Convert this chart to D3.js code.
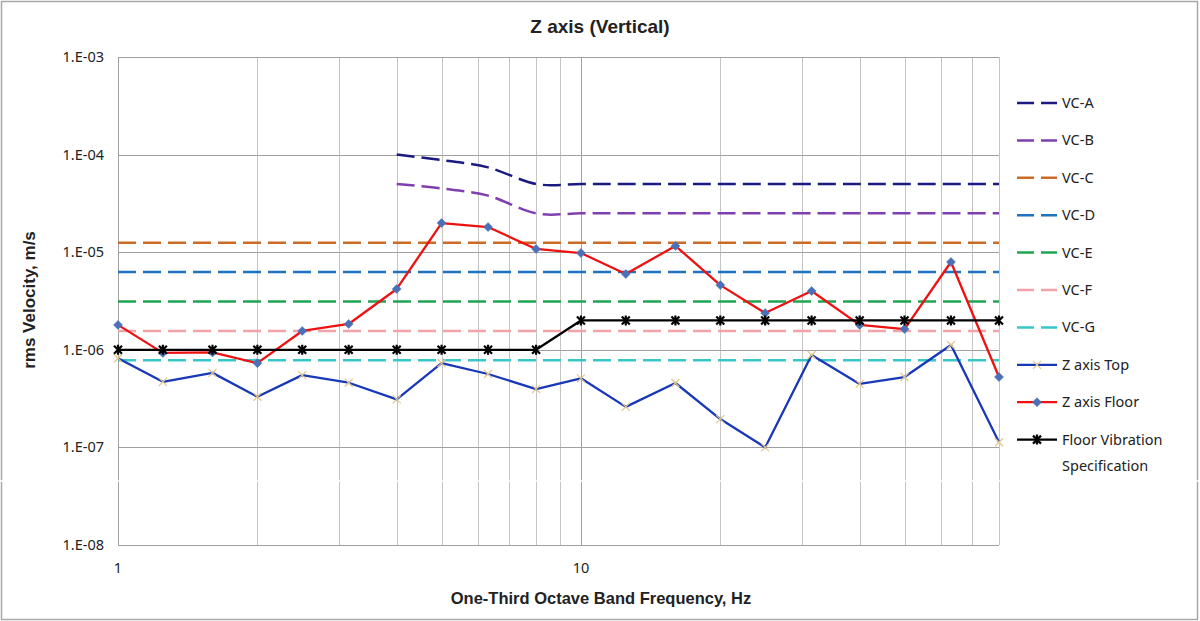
<!DOCTYPE html>
<html>
<head>
<meta charset="utf-8">
<script src="https://cdn.jsdelivr.net/npm/d3@7"></script>
<style>
  body { margin: 0; background: #fff; }
  svg { display: block; }
</style>
</head>
<body>
<svg id="chart" width="1200" height="621"></svg>
<script>
// one-third octave band centre frequencies, Hz
var freqs = [1, 1.25, 1.6, 2, 2.5, 3.15, 4, 5, 6.3, 8, 10, 12.5, 16, 20, 25, 31.5, 40, 50, 63, 80];

// measured rms velocity, m/s
var zTop = [8.2e-7, 4.7e-7, 5.8e-7, 3.3e-7, 5.5e-7, 4.6e-7, 3.1e-7, 7.3e-7, 5.65e-7, 3.96e-7,
            5.1e-7, 2.6e-7, 4.57e-7, 1.95e-7, 1.0e-7, 8.85e-7, 4.47e-7, 5.26e-7, 1.12e-6, 1.13e-7];
var zFloor = [1.8e-6, 9.3e-7, 9.4e-7, 7.3e-7, 1.56e-6, 1.84e-6, 4.2e-6, 1.99e-5, 1.81e-5, 1.08e-5,
              9.8e-6, 5.98e-6, 1.16e-5, 4.6e-6, 2.38e-6, 4.0e-6, 1.8e-6, 1.63e-6, 7.94e-6, 5.26e-7];
var floorSpec = [1e-6, 1e-6, 1e-6, 1e-6, 1e-6, 1e-6, 1e-6, 1e-6, 1e-6, 1e-6,
                 2e-6, 2e-6, 2e-6, 2e-6, 2e-6, 2e-6, 2e-6, 2e-6, 2e-6, 2e-6];

// vibration criteria curves
var vcABFreqs = [4, 5, 6.3, 8, 10, 12.5, 16, 20, 25, 31.5, 40, 50, 63, 80];
var vcA = [1e-4, 8.8e-5, 7.4e-5, 5e-5, 5e-5, 5e-5, 5e-5, 5e-5, 5e-5, 5e-5, 5e-5, 5e-5, 5e-5, 5e-5];
var vcB = [5e-5, 4.5e-5, 3.8e-5, 2.5e-5, 2.5e-5, 2.5e-5, 2.5e-5, 2.5e-5, 2.5e-5, 2.5e-5, 2.5e-5, 2.5e-5, 2.5e-5, 2.5e-5];
var vcFlatFreqs = [1, 80];
var vcC = [1.25e-5, 1.25e-5];
var vcD = [6.25e-6, 6.25e-6];
var vcE = [3.12e-6, 3.12e-6];
var vcF = [1.56e-6, 1.56e-6];
var vcG = [7.8e-7, 7.8e-7];

var yTicks = [1e-8, 1e-7, 1e-6, 1e-5, 1e-4, 1e-3];
var xTickLabels = [1, 10];
var xGrid = [2, 3, 4, 5, 6, 7, 8, 9, 10, 20, 30, 40, 50, 60, 70, 80];

var vcSeries = [
  {name: "VC-A", xs: vcABFreqs, ys: vcA, color: "#1a1a80"},
  {name: "VC-B", xs: vcABFreqs, ys: vcB, color: "#7f3fb0"},
  {name: "VC-C", xs: vcFlatFreqs, ys: vcC, color: "#cc6a28"},
  {name: "VC-D", xs: vcFlatFreqs, ys: vcD, color: "#1f72bd"},
  {name: "VC-E", xs: vcFlatFreqs, ys: vcE, color: "#1fa551"},
  {name: "VC-F", xs: vcFlatFreqs, ys: vcF, color: "#f2a3a8"},
  {name: "VC-G", xs: vcFlatFreqs, ys: vcG, color: "#38c6c8"}
];
var dataSeries = [
  {name: "Z axis Top", ys: zTop, color: "#1838b8", marker: "x", mcolor: "#e3c68a"},
  {name: "Z axis Floor", ys: zFloor, color: "#ee1111", marker: "diamond", mcolor: "#4a70b8"},
  {name: "Floor Vibration", name2: "Specification", ys: floorSpec, color: "#000", marker: "star", mcolor: "#000"}
];

var svg = d3.select("#chart");
var W = 1200, H = 621;
var mLeft = 118, mRight = 999, mTop = 57, mBottom = 545;

var x = d3.scaleLog().domain([1, 80]).range([mLeft, mRight]);
var y = d3.scaleLog().domain([1e-8, 1e-3]).range([mBottom, mTop]);

// outer frame
svg.append("rect")
  .attr("x", 1.5).attr("y", 1.5).attr("width", W - 4).attr("height", H - 3)
  .attr("fill", "#fff").attr("stroke", "#a8a8a8").attr("stroke-width", 1.5);

var tickFont = "'Noto Sans', sans-serif";

// grid
var grid = svg.append("g");
grid.selectAll(".vg").data(xGrid).enter().append("line")
  .attr("x1", function(d) { return Math.round(x(d)) + 0.5; })
  .attr("x2", function(d) { return Math.round(x(d)) + 0.5; })
  .attr("y1", mTop).attr("y2", mBottom)
  .attr("stroke", function(d) { return d === 10 ? "#a0a0a0" : "#c4c4c4"; })
  .attr("stroke-width", 1);
grid.selectAll(".hg").data(yTicks).enter().append("line")
  .attr("x1", mLeft).attr("x2", mRight)
  .attr("y1", function(d) { return Math.round(y(d)) + 0.5; })
  .attr("y2", function(d) { return Math.round(y(d)) + 0.5; })
  .attr("stroke", "#a0a0a0").attr("stroke-width", 1);
grid.append("line")
  .attr("x1", mLeft + 0.5).attr("x2", mLeft + 0.5).attr("y1", mTop).attr("y2", mBottom)
  .attr("stroke", "#a0a0a0");

// y axis labels
var fmtE = function(d) {
  var e = Math.round(Math.log10(d));
  return "1.E" + (e < 0 ? "-" : "+") + String(Math.abs(e)).padStart(2, "0");
};
svg.append("g").selectAll("text").data(yTicks).enter().append("text")
  .attr("x", 104).attr("y", function(d) { return y(d); })
  .attr("dy", "0.35em").attr("text-anchor", "end")
  .style("font-family", tickFont).style("font-size", "14.5px").attr("fill", "#222")
  .text(fmtE);

// x axis labels
svg.append("g").selectAll("text").data(xTickLabels).enter().append("text")
  .attr("x", function(d) { return x(d); }).attr("y", 573)
  .attr("text-anchor", "middle")
  .style("font-family", tickFont).style("font-size", "14.5px").attr("fill", "#222")
  .text(function(d) { return d; });

// titles
svg.append("text").attr("x", 600).attr("y", 33).attr("text-anchor", "middle")
  .style("font-family", "'Liberation Sans', Arial, sans-serif").style("font-weight", "bold")
  .style("font-size", "19px").attr("fill", "#222").text("Z axis (Vertical)");
svg.append("text").attr("x", 601).attr("y", 604).attr("text-anchor", "middle")
  .style("font-family", "'Liberation Sans Narrow', 'Liberation Sans', Arial, sans-serif").style("font-weight", "bold")
  .style("font-size", "16.5px").attr("fill", "#222").text("One-Third Octave Band Frequency, Hz");
svg.append("text").attr("transform", "translate(35,300) rotate(-90)").attr("text-anchor", "middle")
  .style("font-family", "'Liberation Sans Narrow', 'Liberation Sans', Arial, sans-serif").style("font-weight", "bold")
  .style("font-size", "17px").attr("fill", "#222").text("rms Velocity, m/s");

// VC curves
var smooth = d3.line()
  .x(function(d) { return x(d[0]); })
  .y(function(d) { return y(d[1]); })
  .curve(d3.curveCardinal.tension(0));

var plot = svg.append("g");
vcSeries.forEach(function(s) {
  plot.append("path")
    .datum(d3.zip(s.xs, s.ys))
    .attr("d", smooth)
    .attr("fill", "none").attr("stroke", s.color)
    .attr("stroke-width", 2.5).attr("stroke-dasharray", "18,7");
});

var straight = d3.line()
  .x(function(d) { return x(d[0]); })
  .y(function(d) { return y(d[1]); });

function markerPath(type) {
  if (type === "x") return "M-4,-4L4,4M-4,4L4,-4";
  if (type === "diamond") return "M0,-4.5L4.5,0L0,4.5L-4.5,0Z";
  return "M-4,-4L4,4M-4,4L4,-4M0,-5L0,5";
}
function drawMarker(g, type, color) {
  var p = g.append("path").attr("d", markerPath(type));
  if (type === "diamond") p.attr("fill", color).attr("stroke", color).attr("stroke-width", 0.5);
  else if (type === "x") p.attr("fill", "none").attr("stroke", color).attr("stroke-width", 1.2);
  else p.attr("fill", "none").attr("stroke", color).attr("stroke-width", 2.2);
}

dataSeries.forEach(function(s) {
  var pts = d3.zip(freqs, s.ys);
  plot.append("path").datum(pts).attr("d", straight)
    .attr("fill", "none").attr("stroke", s.color).attr("stroke-width", 2.3)
    .attr("stroke-linejoin", "round");
  pts.forEach(function(p) {
    var g = plot.append("g").attr("transform", "translate(" + x(p[0]) + "," + y(p[1]) + ")");
    drawMarker(g, s.marker, s.mcolor);
  });
});

// legend
var legend = svg.append("g");
var ly0 = 103, lstep = 37.4;
var lx1 = 1017, lx2 = 1057;
var legFont = "'Noto Sans', sans-serif";
vcSeries.forEach(function(s, i) {
  var ly = ly0 + i * lstep;
  legend.append("line").attr("x1", lx1).attr("x2", lx2).attr("y1", ly).attr("y2", ly)
    .attr("stroke", s.color).attr("stroke-width", 2.5).attr("stroke-dasharray", "17,7");
  legend.append("text").attr("x", lx2 + 5).attr("y", ly).attr("dy", "0.35em")
    .style("font-family", legFont).style("font-size", "14.5px").attr("fill", "#222").text(s.name);
});
dataSeries.forEach(function(s, j) {
  var ly = ly0 + (vcSeries.length + j) * lstep;
  legend.append("line").attr("x1", lx1).attr("x2", lx2).attr("y1", ly).attr("y2", ly)
    .attr("stroke", s.color).attr("stroke-width", 2.3);
  drawMarker(legend.append("g").attr("transform", "translate(" + ((lx1 + lx2) / 2) + "," + ly + ")"), s.marker, s.mcolor);
  legend.append("text").attr("x", lx2 + 5).attr("y", ly).attr("dy", "0.35em")
    .style("font-family", legFont).style("font-size", "14.5px").attr("fill", "#222").text(s.name);
  if (s.name2) {
    legend.append("text").attr("x", lx2 + 5).attr("y", ly + 26).attr("dy", "0.35em")
      .style("font-family", legFont).style("font-size", "14.5px").attr("fill", "#222").text(s.name2);
  }
});

// faint horizontal seam that runs across the source picture
svg.append("line").attr("x1", 0).attr("x2", W).attr("y1", 481).attr("y2", 481)
  .attr("stroke", "#fff").attr("stroke-width", 1.5);
</script>
</body>
</html>
